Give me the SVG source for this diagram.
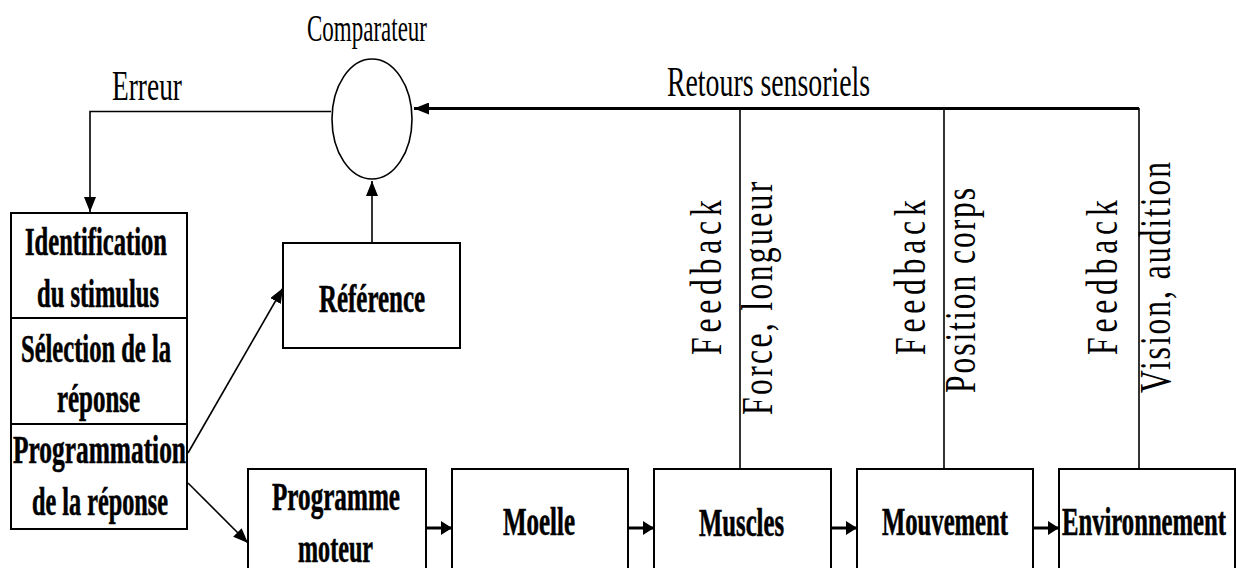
<svg xmlns="http://www.w3.org/2000/svg" width="1236" height="568" viewBox="0 0 1236 568">
<style>
text{font-family:"Liberation Serif","DejaVu Serif","Times New Roman",serif;fill:#000}
.box{fill:#fff;stroke:#000;stroke-width:2}
.ln{fill:none;stroke:#000;stroke-width:1.6}
.thick{fill:none;stroke:#000;stroke-width:3}
.lbl{font-size:42px}
.cmp{font-size:38px}
.b{font-size:39px;font-weight:bold;stroke:#000;stroke-width:0.6}
.v{font-size:44px}
</style>
<defs>
<marker id="ah" markerUnits="userSpaceOnUse" markerWidth="15" markerHeight="12" refX="15" refY="6" orient="auto">
<path d="M0,0 L15,6 L0,12 z" fill="#000"/>
</marker>
<marker id="ahs" markerUnits="userSpaceOnUse" markerWidth="11" markerHeight="14" refX="11" refY="7" orient="auto">
<path d="M0,0 L11,7 L0,14 z" fill="#000"/>
</marker>
</defs>

<g id="connectors">
<polyline class="ln" points="331,111.5 90,111.5 90,212" marker-end="url(#ah)"/>
<line class="thick" x1="1139" y1="108.5" x2="414" y2="108.5" marker-end="url(#ah)"/>
<line class="ln" x1="372" y1="243" x2="372" y2="181" marker-end="url(#ah)"/>
<line class="ln" x1="740" y1="108" x2="740" y2="469"/>
<line class="ln" x1="944" y1="108" x2="944" y2="469"/>
<line class="ln" x1="1139" y1="108" x2="1139" y2="469"/>
<line class="ln" x1="188" y1="453" x2="283" y2="288" stroke-width="2" marker-end="url(#ah)"/>
<line class="ln" x1="188" y1="483" x2="248" y2="543" stroke-width="2.2" marker-end="url(#ah)"/>
<line class="thick" x1="426" y1="528" x2="452" y2="528" marker-end="url(#ahs)"/>
<line class="thick" x1="628" y1="528" x2="654" y2="528" marker-end="url(#ahs)"/>
<line class="thick" x1="831" y1="528" x2="857" y2="528" marker-end="url(#ahs)"/>
<line class="thick" x1="1033" y1="528" x2="1059" y2="528" marker-end="url(#ahs)"/>
</g>

<g id="labels">
<text class="lbl" x="112" y="100" textLength="70" lengthAdjust="spacingAndGlyphs">Erreur</text>
<text class="lbl" x="667" y="96" textLength="203" lengthAdjust="spacingAndGlyphs">Retours sensoriels</text>
<text class="v" transform="translate(721,355) rotate(-90) scale(0.72,1)" textLength="215" lengthAdjust="spacing">Feedback</text>
<text class="v" transform="translate(772,415) rotate(-90) scale(0.72,1)" textLength="324" lengthAdjust="spacing">Force, longueur</text>
<text class="v" transform="translate(925,355) rotate(-90) scale(0.72,1)" textLength="215" lengthAdjust="spacing">Feedback</text>
<text class="v" transform="translate(975,393) rotate(-90) scale(0.72,1)" textLength="285" lengthAdjust="spacing">Position corps</text>
<text class="v" transform="translate(1117,355) rotate(-90) scale(0.72,1)" textLength="215" lengthAdjust="spacing">Feedback</text>
<text class="v" transform="translate(1170,393) rotate(-90) scale(0.72,1)" textLength="321" lengthAdjust="spacing">Vision, audition</text>
</g>

<g id="comparateur">
<ellipse cx="372" cy="119" rx="40" ry="60" fill="#fff" stroke="#000" stroke-width="1.6"/>
<text class="cmp" x="307" y="41" textLength="120" lengthAdjust="spacingAndGlyphs">Comparateur</text>
</g>

<g id="identification">
<rect class="box" x="11" y="213" width="176" height="105"/>
<text class="b" x="25" y="255" textLength="142" lengthAdjust="spacingAndGlyphs">Identification</text>
<text class="b" x="37" y="307" textLength="122" lengthAdjust="spacingAndGlyphs">du stimulus</text>
</g>
<g id="selection">
<rect class="box" x="11" y="318" width="176" height="106"/>
<text class="b" x="21" y="362" textLength="150" lengthAdjust="spacingAndGlyphs">Sélection de la</text>
<text class="b" x="57" y="412" textLength="83" lengthAdjust="spacingAndGlyphs">réponse</text>
</g>
<g id="programmation">
<rect class="box" x="11" y="424" width="176" height="105"/>
<text class="b" x="13" y="463" textLength="173" lengthAdjust="spacingAndGlyphs">Programmation</text>
<text class="b" x="32" y="515" textLength="136" lengthAdjust="spacingAndGlyphs">de la réponse</text>
</g>

<g id="reference">
<rect class="box" x="283" y="243" width="177" height="105"/>
<text class="b" x="319" y="312" textLength="106" lengthAdjust="spacingAndGlyphs">Référence</text>
</g>

<g id="programme-moteur">
<rect class="box" x="248" y="469" width="178" height="120"/>
<text class="b" x="272" y="510" textLength="128" lengthAdjust="spacingAndGlyphs">Programme</text>
<text class="b" x="298" y="562" textLength="75" lengthAdjust="spacingAndGlyphs">moteur</text>
</g>
<g id="moelle">
<rect class="box" x="452" y="469" width="176" height="120"/>
<text class="b" x="503" y="535" textLength="72" lengthAdjust="spacingAndGlyphs">Moelle</text>
</g>
<g id="muscles">
<rect class="box" x="654" y="469" width="177" height="120"/>
<text class="b" x="699" y="536" textLength="85" lengthAdjust="spacingAndGlyphs">Muscles</text>
</g>
<g id="mouvement">
<rect class="box" x="857" y="469" width="176" height="120"/>
<text class="b" x="882" y="535" textLength="126" lengthAdjust="spacingAndGlyphs">Mouvement</text>
</g>
<g id="environnement">
<rect class="box" x="1059" y="469" width="176" height="120"/>
<text class="b" x="1062" y="535" textLength="164" lengthAdjust="spacingAndGlyphs">Environnement</text>
</g>
</svg>
